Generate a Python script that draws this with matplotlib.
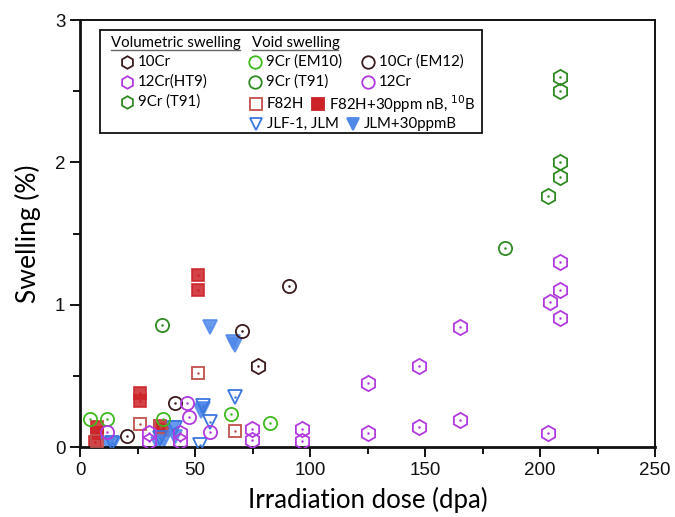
import matplotlib
matplotlib.use("Agg")
import matplotlib.pyplot as plt
from matplotlib.lines import Line2D
from matplotlib.ticker import MultipleLocator

# --- data (dose in dpa, swelling in %) ---
# volumetric swelling
vol_10cr_x = [77.4]
vol_10cr_y = [0.57]
vol_12cr_x = [30, 30, 43.5, 43.5, 74.6, 74.6, 96.4, 96.4, 125.4, 125.4, 147.4, 147.4,
              165.2, 165.2, 203.6, 204.3, 208.7, 208.7, 208.7]
vol_12cr_y = [0.10, 0.04, 0.10, 0.04, 0.126, 0.049, 0.124, 0.044, 0.45, 0.096, 0.57, 0.14,
              0.84, 0.19, 0.096, 1.02, 1.30, 1.10, 0.905]
vol_9cr_x = [203.6, 208.7, 208.7, 208.7, 208.7]
vol_9cr_y = [1.76, 2.60, 2.50, 2.00, 1.90]

# void swelling
em10_x = [4.3, 11.6, 36.2, 65.6, 82.5]
em10_y = [0.20, 0.20, 0.20, 0.235, 0.17]
t91_x = [35.5, 184.8]
t91_y = [0.857, 1.40]
em12_x = [20.3, 41.3, 70.4, 90.9]
em12_y = [0.077, 0.31, 0.815, 1.13]
cr12_x = [11.6, 46.6, 47.5, 56.5]
cr12_y = [0.108, 0.31, 0.21, 0.108]
f82h_x = [7.2, 26.1, 34.8, 51.3, 67.4]
f82h_y = [0.04, 0.16, 0.143, 0.52, 0.115]
f82hb_x = [6.5, 7.2, 7.2, 26.1, 26.1, 34.8, 36.0, 51.2, 51.2]
f82hb_y = [0.037, 0.096, 0.143, 0.32, 0.377, 0.15, 0.12, 1.10, 1.21]
jlf_x = [13.8, 34.8, 41.3, 52.2, 53.3, 56.5, 67.4]
jlf_y = [0.026, 0.06, 0.13, 0.015, 0.29, 0.175, 0.35]
jlmb_x = [12.3, 14.5, 34.0, 36.5, 40.6, 41.3, 52.5, 53.3, 56.5, 66.7, 67.4]
jlmb_y = [0.02, 0.02, 0.02, 0.05, 0.13, 0.07, 0.25, 0.27, 0.845, 0.74, 0.716]

c_dark = "#3b1a1c"
c_mag = "#b23ae0"
c_dgreen = "#2f8a22"
c_lgreen = "#3fba1e"
c_red_edge = "#c0504d"
c_red = "#cc2228"
c_blue = "#3a76de"
c_blue_fill = "#5089ea"

plt.rcParams['font.family'] = ['Liberation Sans', 'DejaVu Sans']

fig = plt.figure(figsize=(6.75, 5.17), dpi=100)
ax = fig.add_axes([80 / 675, 70 / 517, 575 / 675, 427 / 517])


def series(x, y, marker, edge, face="none", ms=10, alpha=1.0, z=3):
    ax.plot(x, y, ls="none", marker=marker, ms=ms, mec=edge, mfc=face,
            mew=1.3, alpha=alpha, zorder=z)
    ax.plot(x, y, ls="none", marker=".", ms=1.6, color=edge, zorder=z + 0.1)


series(f82hb_x, f82hb_y, "s", c_red, c_red, ms=8.5, alpha=0.85, z=2)
series(jlmb_x, jlmb_y, "v", c_blue_fill, c_blue_fill, ms=10, alpha=0.85, z=2)
series(f82h_x, f82h_y, "s", c_red_edge, ms=8.5)
series(jlf_x, jlf_y, "v", c_blue, ms=10)
series(em10_x, em10_y, "o", c_lgreen, ms=9.5)
series(t91_x, t91_y, "o", c_dgreen, ms=9.5)
series(em12_x, em12_y, "o", c_dark, ms=9.5)
series(cr12_x, cr12_y, "o", c_mag, ms=9.5)
series(vol_10cr_x, vol_10cr_y, "h", c_dark, ms=11)
series(vol_12cr_x, vol_12cr_y, "h", c_mag, ms=11)
series(vol_9cr_x, vol_9cr_y, "h", c_dgreen, ms=11)

ax.set_xlim(0, 250)
ax.set_ylim(0, 3)
ax.xaxis.set_major_locator(MultipleLocator(50))
ax.xaxis.set_minor_locator(MultipleLocator(25))
ax.yaxis.set_major_locator(MultipleLocator(1))
ax.yaxis.set_minor_locator(MultipleLocator(0.5))
ax.tick_params(which="both", direction="out", top=False, right=False,
               width=1.4, labelsize=13.5, colors="#111111")
ax.tick_params(which="major", length=7)
ax.tick_params(which="minor", length=5)
for s in ax.spines.values():
    s.set_linewidth(1.4)
    s.set_color("#111111")
ax.spines["left"].set_linewidth(2)
ax.spines["bottom"].set_linewidth(2)

ax.set_xlabel("Irradiation dose (dpa)", fontsize=18.5, family=["Lato", "DejaVu Sans"], labelpad=6)
ax.set_ylabel("Swelling (%)", fontsize=19, family=["Lato", "DejaVu Sans"], labelpad=10)

# --- hand-built legend box (pixel positions inside the axes -> fractions) ---
def fx(px):
    return (px - 80) / 575


def fy(py):
    return (447 - py) / 427


box = plt.Rectangle((fx(100), fy(133)), fx(482) - fx(100), fy(30) - fy(133),
                    transform=ax.transAxes, fill=True, fc="white", ec="#111111",
                    lw=1.3, zorder=5)
ax.add_patch(box)

lfont = dict(fontsize=10.8, family=["Lato", "DejaVu Sans"], va="center", zorder=6,
             transform=ax.transAxes)
ax.text(fx(111), fy(43), "Volumetric swelling", **lfont)
ax.text(fx(252), fy(43), "Void swelling", **lfont)
ax.add_line(Line2D([fx(111), fx(240)], [fy(50), fy(50)], transform=ax.transAxes,
                   color="#666666", lw=1, zorder=6))
ax.add_line(Line2D([fx(252), fx(338)], [fy(50), fy(50)], transform=ax.transAxes,
                   color="#666666", lw=1, zorder=6))

legend_items = [
    (127, 62, "h", c_dark, "none", "10Cr"),
    (127, 82, "h", c_mag, "none", "12Cr(HT9)"),
    (127, 102, "h", c_dgreen, "none", "9Cr (T91)"),
    (255, 62, "o", c_lgreen, "none", "9Cr (EM10)"),
    (255, 82, "o", c_dgreen, "none", "9Cr (T91)"),
    (368, 62, "o", c_dark, "none", "10Cr (EM12)"),
    (368, 82, "o", c_mag, "none", "12Cr"),
    (256, 104, "s", c_red_edge, "none", "F82H"),
    (318, 104, "s", c_red, c_red, "F82H+30ppm nB, $^{10}$B"),
    (256, 124, "v", c_blue, "none", "JLF-1, JLM"),
    (353, 124, "v", c_blue_fill, c_blue_fill, "JLM+30ppmB"),
]
for px, py, m, ec, fc, label in legend_items:
    ax.add_line(Line2D([fx(px)], [fy(py)], transform=ax.transAxes, ls="none",
                       marker=m, ms=9, mec=ec, mfc=fc, mew=1.3, zorder=6))
    ax.text(fx(px + 11), fy(py), label, **lfont)

fig.savefig("out.png", dpi=100)
